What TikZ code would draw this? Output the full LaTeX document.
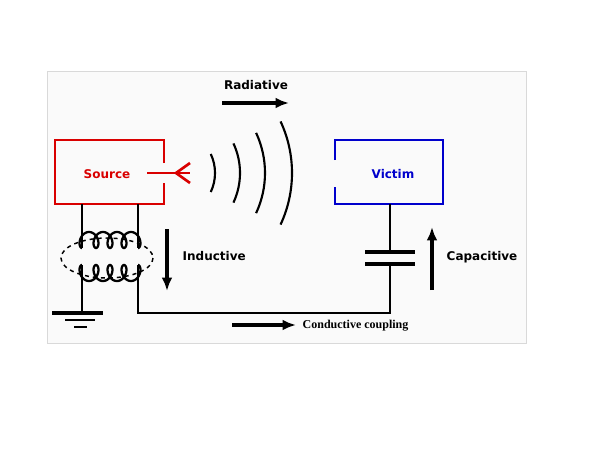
\documentclass[tikz,border=0pt]{standalone}
\usepackage{fontspec}
\usetikzlibrary{arrows.meta}
\setmainfont{DejaVu Sans}
\newfontfamily\serifb{Liberation Serif}
\begin{document}
\begin{tikzpicture}[x=0.75pt,y=-0.75pt,
  wire/.style={line width=2.1pt,black},
  arr/.style={line width=2.4pt,-{Latex[length=10pt,width=8pt]}},
  lbl/.style={font=\fontsize{9}{10}\selectfont\bfseries},
  box/.style={line width=2pt}]
\useasboundingbox (0,0) rectangle (600,450);
\draw[black!15,fill=black!2] (47,71) rectangle (526,343);
% source
\draw[box,red!85!black] (164,163) -- (164,140) -- (55,140) -- (55,204) -- (164,204) -- (164,183);
\node[lbl,red!85!black] (src) at (107,174) {Source};
\coordinate (a1) at (147,173); \coordinate (a2) at (190,173);
\draw[box,red!85!black] (a1) -- (a2);
\draw[box,red!85!black] (190,163) -- (176,173) -- (190,183);
% waves
\foreach \r in {45,70,95,122}
  \draw[line width=1.6pt] ({170+\r*cos(25)},{173+\r*sin(25)}) arc[start angle=25,end angle=-25,radius=\r];
% victim
\draw[box,blue!80!black] (335,160) -- (335,140) -- (443,140) -- (443,204) -- (335,204) -- (335,187);
\node[lbl,blue!80!black] (vic) at (393,174) {Victim};
% coils
\draw[wire] (82,204) -- (82,248);
\draw[wire] (138,204) -- (138,248);
\draw[line width=1.7pt] plot[domain=0:1440,samples=240] ({82+(\x/360)*14-5.5*sin(\x)},{248-8*(1-cos(\x))});
\draw[line width=1.7pt] plot[domain=0:1440,samples=240] ({82+(\x/360)*14-5.5*sin(\x)},{265+8*(1-cos(\x))});
\draw[dashed,line width=1.1pt] (107,258) ellipse [x radius=46,y radius=20];
\draw[wire] (82,265) -- (82,313);
\draw[line width=3pt] (52,313) -- (103,313);
\draw[line width=2.2pt] (65,320) -- (95,320);
\draw[line width=2.2pt] (74,327) -- (87,327);
\draw[wire] (138,265) -- (138,313) -- (390,313) -- (390,264);
\draw[wire] (390,204) -- (390,252);
\draw[line width=3.5pt] (365,252) -- (415,252);
\draw[line width=3.5pt] (365,264) -- (415,264);
% arrows
\coordinate (r1) at (222,103); \coordinate (r2) at (289,103);
\draw[arr] (r1) -- (r2);
\node[lbl] (rad) at (256,85) {Radiative};
\coordinate (i1) at (167,229); \coordinate (i2) at (167,291);
\draw[arr] (i1) -- (i2);
\node[lbl,anchor=west] (ind) at (178,256) {Inductive};
\coordinate (c1) at (432,290); \coordinate (c2) at (432,227);
\draw[arr] (c1) -- (c2);
\node[lbl,anchor=west] (cap) at (442,257) {Capacitive};
\coordinate (k1) at (232,325); \coordinate (k2) at (296,325);
\draw[arr] (k1) -- (k2);
\node[font=\serifb\fontsize{9}{10}\selectfont\bfseries,anchor=west] (cond) at (298,326) {Conductive coupling};
\end{tikzpicture}
\end{document}
